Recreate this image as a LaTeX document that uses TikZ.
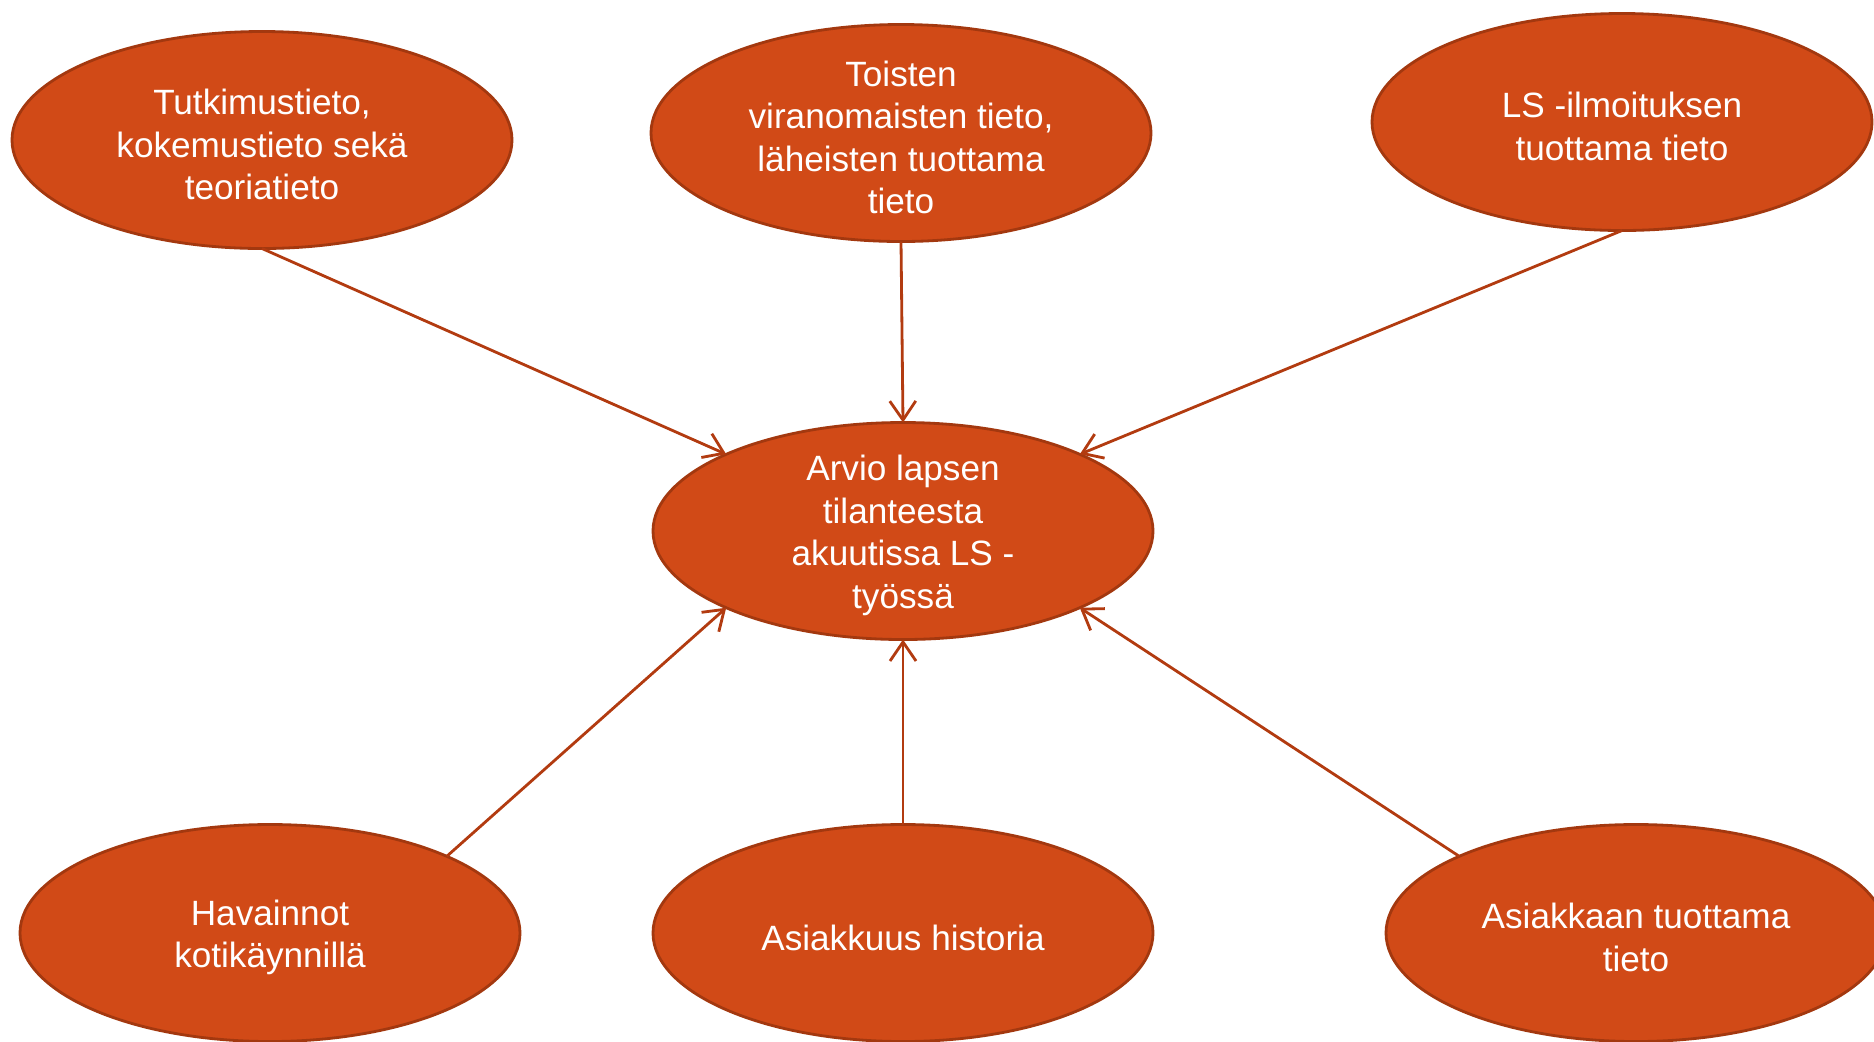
\documentclass[tikz,border=0pt]{standalone}
\usepackage{fontspec}
\setmainfont{Liberation Sans}
\usetikzlibrary{shapes.geometric}
\usetikzlibrary{arrows.meta}
\usepackage{xcolor}
\definecolor{rust}{HTML}{D14A17}
\definecolor{rustdark}{HTML}{A3380F}
\definecolor{rustline}{HTML}{B23B10}

\begin{document}
\begin{tikzpicture}[x=1cm, y=-1cm,
  bubble/.style={ellipse, fill=rust, draw=rustdark, line width=.8pt,
    minimum width=5cm, minimum height=2.17cm, inner sep=0pt, outer sep=0pt},
  words/.style={text=white, align=center, yshift=-1.3pt, font=\fontsize{10}{12.1}\selectfont},
  link/.style={rustline, line width=.8pt, -{Straight Barb[length=1.9mm,width=2.6mm]}}]
\useasboundingbox (0,0) rectangle (18.74,10.41);
% sources on top
\node[bubble, label={[words]center:Tutkimustieto,\\kokemustieto sekä\\teoriatieto}] (tutkimus) at (2.62,1.40) {};
\node[bubble, label={[words]center:Toisten\\viranomaisten tieto,\\läheisten tuottama\\tieto}] (toisten) at (9.01,1.33) {};
\node[bubble, label={[words]center:LS -ilmoituksen\\tuottama tieto}] (ilmoitus) at (16.22,1.22) {};
% the assessment
\node[bubble, label={[words]center:Arvio lapsen\\tilanteesta\\akuutissa LS -\\työssä}] (arvio) at (9.03,5.31) {};
% sources below
\node[bubble, label={[words]center:Havainnot\\kotikäynnillä}] (havainnot) at (2.70,9.33) {};
\node[bubble, label={[words]center:Asiakkuus historia}] (historia) at (9.03,9.33) {};
\node[bubble, label={[words]center:Asiakkaan tuottama\\tieto}] (asiakas) at (16.36,9.33) {};

\draw[link] (tutkimus.south) -- (arvio.north west);
\draw[link] (toisten.south) -- (arvio.north);
\draw[link] (ilmoitus.south) -- (arvio.north east);
\draw[link] (havainnot.north east) -- (arvio.south west);
\draw[link] (historia.north) -- (arvio.south);
\draw[link] (asiakas.north west) -- (arvio.south east);
\end{tikzpicture}
\end{document}
